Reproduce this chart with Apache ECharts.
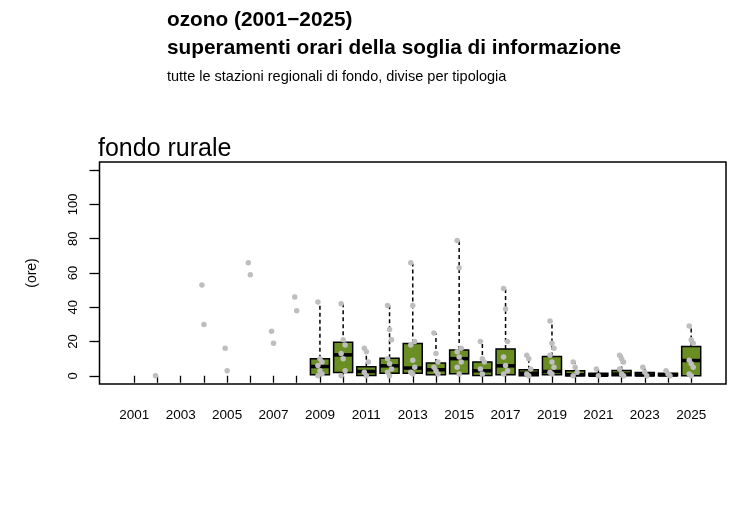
<html>
<head>
  <meta charset="UTF-8">
  <script src="https://cdn.jsdelivr.net/npm/echarts/dist/echarts.min.js"></script>
</head>
<body style="margin:0;background:#fff;">
<div id="chart" style="width:750px;height:509px;"></div>
<script type="text/javascript">

// anni (asse x)
var years = [];
for (var y = 2001; y <= 2025; y++) years.push(y);
var yearLabels = years.filter(function (y) { return y % 2 === 1; });

// tick asse y
var yTicks = [0, 20, 40, 60, 80, 100, 120];
var yLabels = [0, 20, 40, 60, 80, 100];

// box: anno, min, q1, mediana, q3, max (ore)
var boxYears = [2009, 2010, 2011, 2012, 2013, 2014, 2015, 2016, 2017,
                2018, 2019, 2020, 2021, 2022, 2023, 2024, 2025];
var boxMin = [0, 0.3, 0, 0, 0, 0, 0.5, 0, 0.5, 0, 0, 0, 0, 0, 0, 0, 0];
var boxQ1  = [0.6, 1.9, 0.2, 1.5, 1.5, 0.6, 1.2, 0.2, 0.6, 0, 0.6, 0, 0, 0, 0, 0, 0];
var boxMed = [5.4, 12.2, 2.5, 5.8, 4.5, 3.5, 10, 2.9, 5.8, 1.5, 2.5, 0.6, 0.3, 1, 0.5, 0.5, 8.9];
var boxQ3  = [9.9, 19.6, 5.2, 10.3, 18.8, 7.4, 15.1, 8.0, 15.7, 3.5, 11.3, 2.9, 1.5, 3.1, 1.9, 1.5, 17.1];
var boxMax = [42.7, 41.9, 15.7, 41, 65.6, 24.8, 79.2, 20.4, 51, 11.6, 32, 7.6, 3.8, 12.2, 5.2, 2.9, 29.5];

// valori delle singole stazioni per anno
var stationValues = {
  2002: [0],
  2004: [53, 30],
  2005: [16, 3],
  2006: [66, 59],
  2007: [26, 19],
  2008: [46, 38],
  2009: [43, 10, 8, 6, 3, 1, 0],
  2010: [42, 21, 18, 13, 10, 3, 0],
  2011: [16, 14, 8, 2, 0],
  2012: [41, 27, 21, 10, 7, 4, 2, 0],
  2013: [66, 41, 20, 18, 9, 5, 2, 1],
  2014: [25, 13, 8, 5, 3, 1],
  2015: [79, 63, 16, 14, 11, 8, 5, 1],
  2016: [20, 10, 8, 4, 1],
  2017: [51, 39, 20, 11, 6, 3, 1],
  2018: [12, 10, 4, 1, 0],
  2019: [32, 19, 16, 12, 8, 5, 2, 1],
  2020: [8, 5, 2, 0],
  2021: [4, 0],
  2022: [12, 10, 8, 4, 1, 0],
  2023: [5, 2, 0],
  2024: [3, 1, 0],
  2025: [29, 21, 19, 9, 7, 5, 1, 0]
};

var FONT = 'Liberation Sans, Arial, sans-serif';
var chart = echarts.init(document.getElementById('chart'));

var boxData = boxYears.map(function (y, i) {
  return [y, boxMin[i], boxQ1[i], boxMed[i], boxQ3[i], boxMax[i]];
});

var pointData = [];
years.forEach(function (y) {
  var vals = stationValues[y] || [];
  vals.forEach(function (v, k) {
    pointData.push({ value: [y, v], symbolOffset: [((k % 3) - 1) * 2, 0] });
  });
});

function renderBox(params, api) {
  var x = api.value(0);
  var pMin = api.coord([x, api.value(1)]);
  var pQ1 = api.coord([x, api.value(2)]);
  var pMed = api.coord([x, api.value(3)]);
  var pQ3 = api.coord([x, api.value(4)]);
  var pMax = api.coord([x, api.value(5)]);
  var hw = api.size([0.82, 0])[0] / 2;
  var cx = pMed[0];
  var dash = { stroke: '#000', lineWidth: 1.5, lineDash: [4, 3] };
  return {
    type: 'group',
    children: [
      { type: 'line', shape: { x1: cx, y1: pQ3[1], x2: cx, y2: pMax[1] }, style: dash },
      { type: 'line', shape: { x1: cx, y1: pQ1[1], x2: cx, y2: pMin[1] }, style: dash },
      { type: 'rect', shape: { x: cx - hw, y: pQ3[1], width: hw * 2, height: pQ1[1] - pQ3[1] },
        style: { fill: '#6B8E23', stroke: '#000', lineWidth: 1.5 } },
      { type: 'line', shape: { x1: cx - hw, y1: pMed[1], x2: cx + hw, y2: pMed[1] },
        style: { stroke: '#000', lineWidth: 3.5 } }
    ]
  };
}

var option = {
  backgroundColor: '#fff',
  animation: false,
  textStyle: { fontFamily: FONT },
  graphic: [
    { type: 'text', left: 167, top: 10, style: { text: 'ozono (2001\u22122025)', fontSize: 20.8, fontWeight: 'bold', fontFamily: FONT, fill: '#000' } },
    { type: 'text', left: 167, top: 38, style: { text: 'superamenti orari della soglia di informazione', fontSize: 20.8, fontWeight: 'bold', fontFamily: FONT, fill: '#000' } },
    { type: 'text', left: 167, top: 69, style: { text: 'tutte le stazioni regionali di fondo, divise per tipologia', fontSize: 14.5, fontFamily: FONT, fill: '#000' } },
    { type: 'text', left: 98, top: 137, style: { text: 'fondo rurale', fontSize: 25, fontFamily: FONT, fill: '#000' } }
  ],
  grid: {
    left: 99.5, right: 24, top: 162, bottom: 125,
    show: true, borderColor: '#000', borderWidth: 1.5, backgroundColor: 'transparent'
  },
  xAxis: {
    type: 'value',
    min: 1999.5, max: 2026.5,
    offset: 4,
    axisLine: { show: false },
    splitLine: { show: false },
    axisTick: { show: true, customValues: years, length: 7, lineStyle: { color: '#000', width: 1.3 } },
    axisLabel: {
      customValues: yearLabels, margin: 20, fontSize: 13.5, color: '#000', fontFamily: FONT,
      formatter: function (v) { return String(v); }
    }
  },
  yAxis: {
    type: 'value',
    min: -4.8, max: 124.8,
    name: '(ore)',
    nameLocation: 'middle',
    nameRotate: 90,
    nameGap: 60,
    nameTextStyle: { fontSize: 14, color: '#000', fontFamily: FONT },
    axisLine: { show: false },
    splitLine: { show: false },
    axisTick: { show: true, customValues: yTicks, length: 10, lineStyle: { color: '#000', width: 1.3 } },
    axisLabel: { customValues: yLabels, rotate: 90, margin: 20, fontSize: 13, color: '#000', fontFamily: FONT }
  },
  series: [
    {
      type: 'custom',
      renderItem: renderBox,
      data: boxData,
      encode: { x: 0, y: [1, 2, 3, 4, 5] },
      z: 2,
      silent: true
    },
    {
      type: 'scatter',
      data: pointData,
      symbol: 'circle',
      symbolSize: 5.5,
      itemStyle: { color: '#BEBEBE', opacity: 1 },
      z: 3,
      silent: true
    }
  ]
};

chart.setOption(option);
</script>
</body>
</html>
